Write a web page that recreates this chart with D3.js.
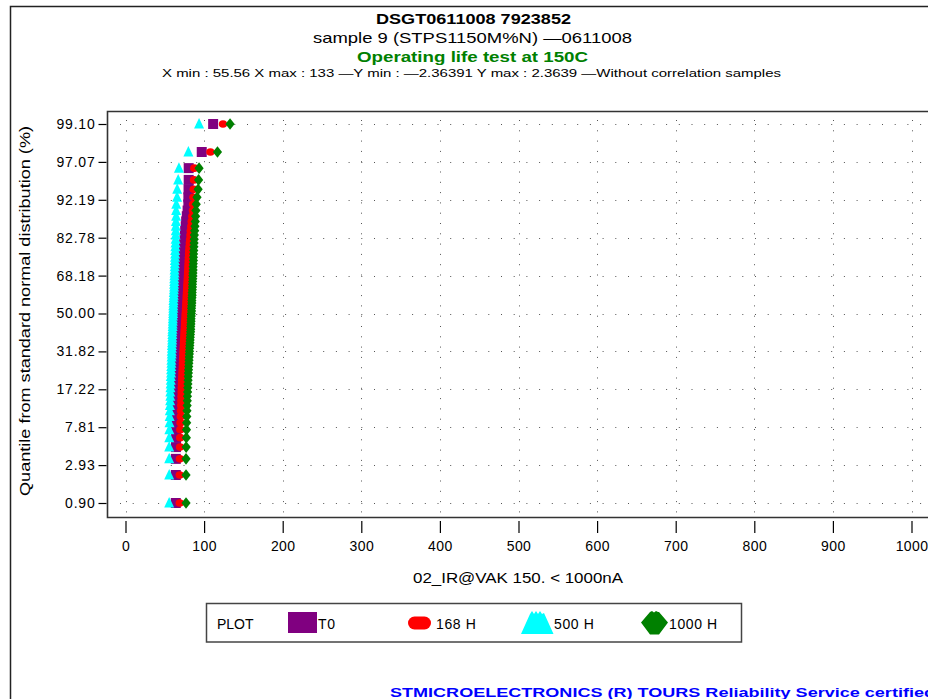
<!DOCTYPE html>
<html><head><meta charset="utf-8">
<script src="https://cdn.jsdelivr.net/npm/d3@7"></script>
<style>
body{margin:0;background:#fff;}
svg{display:block;font-family:"Liberation Sans",Arial,sans-serif;}
</style>
</head><body>
<svg id="c" width="928" height="699"></svg>
<script>
// ---------------- data ----------------
const seriesNames = ["T0", "168 H", "500 H", "1000 H"];
const seriesColors = ["#800080", "#ff0000", "#00ffff", "#008000"];

// sorted readings (nA), 77 parts per read-point
const t0 = [64.0,64.0,64.0,64.2,64.4,64.6,64.8,
  65.0,65.2,65.4,65.6,65.8,66.0,66.0,66.2,66.4,66.6,66.8,67.0,67.0,
  67.2,67.2,67.4,67.6,67.6,67.8,68.0,68.0,68.2,68.4,68.4,68.6,68.8,68.8,69.0,69.2,69.2,69.4,69.6,
  69.8,70.0,70.2,70.4,70.6,70.8,71.0,71.2,71.4,71.6,71.8,72.0,72.2,72.4,72.6,72.8,73.0,73.2,73.4,73.6,73.8,74.0,74.4,74.8,75.2,
  75.6,76.0,76.6,77.2,78.0,79.0,
  80.0,80.0,80.2,80.4,80.4,97.0,111.5];
const h168 = [69.0,69.0,69.2,69.4,69.6,69.8,70.0,
  70.4,70.6,70.8,71.0,71.2,71.4,71.6,71.8,72.0,72.2,72.4,72.6,72.8,
  73.0,73.2,73.4,73.6,73.8,74.0,74.2,74.4,74.6,74.8,75.0,75.2,75.4,75.6,75.8,76.0,76.2,76.4,76.6,
  76.8,77.0,77.2,77.4,77.6,77.8,78.0,78.2,78.4,78.6,78.8,79.0,79.2,79.4,79.6,79.8,80.0,80.2,80.4,80.6,80.8,81.0,81.4,81.8,82.2,
  82.6,83.0,83.6,84.2,85.0,85.8,
  86.0,86.4,86.8,87.2,87.6,108.0,124.0];
const h500 = [55.56,55.6,55.6,55.6,55.7,55.8,56.0,
  56.2,56.4,56.5,56.8,57.0,57.0,57.2,57.4,57.6,57.6,58.0,58.0,58.2,
  58.4,58.4,58.6,58.8,58.8,59.0,59.0,59.2,59.4,59.4,59.6,59.6,59.8,60.0,60.0,60.2,60.2,60.4,60.6,
  60.6,60.8,60.8,61.0,61.0,61.2,61.4,61.4,61.6,61.8,61.8,62.0,62.0,62.2,62.4,62.4,62.6,62.8,62.8,63.0,63.2,63.2,63.4,63.6,63.8,
  63.8,64.0,64.0,64.2,64.4,64.4,
  64.6,65.6,65.8,67.0,68.0,80.0,93.6];
const h1000 = [77.0,77.0,77.0,77.2,77.4,77.6,77.8,
  78.0,78.2,78.4,78.6,78.8,79.0,79.2,79.4,79.6,79.8,80.0,80.2,80.4,
  80.6,80.8,81.0,81.2,81.4,81.6,81.8,82.0,82.2,82.4,82.6,82.8,83.0,83.0,83.2,83.4,83.4,83.6,83.8,
  84.0,84.0,84.2,84.4,84.4,84.6,84.8,84.8,85.0,85.2,85.2,85.4,85.6,85.6,85.8,86.0,86.0,86.2,86.4,86.4,86.6,86.8,87.0,87.2,87.4,
  87.6,88.0,88.4,88.8,89.2,89.6,
  90.0,91.0,92.4,93.0,93.6,117.0,133.0];

const xTicks = [0,100,200,300,400,500,600,700,800,900,1000];
const yTickLabels = ["0.90","2.93","7.81","17.22","31.82","50.00","68.18","82.78","92.19","97.07","99.10"];
const zMax = 2.3639;

const titleLines = ["DSGT0611008 7923852", "sample 9 (STPS1150M%N) \u20140611008",
  "Operating life test at 150C",
  "X min : 55.56 X max : 133 \u2014Y min : \u20142.36391 Y max : 2.3639 \u2014Without correlation samples"];
const xLabel = "02_IR@VAK 150. <  1000nA";
const yLabel = "Quantile from standard normal distribution (%)";
const footer = "STMICROELECTRONICS (R) TOURS Reliability Service certified";

// ---------------- helpers ----------------
function qnorm(p){
  const a=[-3.969683028665376e+01,2.209460984245205e+02,-2.759285104469687e+02,1.383577518672690e+02,-3.066479806614716e+01,2.506628277459239e+00];
  const b=[-5.447609879822406e+01,1.615858368580409e+02,-1.556989798598866e+02,6.680131188771972e+01,-1.328068155288572e+01];
  const c=[-7.784894002430293e-03,-3.223964580411365e-01,-2.400758277161838e+00,-2.549732539343734e+00,4.374664141464968e+00,2.938163982698783e+00];
  const d=[7.784695709041462e-03,3.224671290700398e-01,2.445134137142996e+00,3.754408661907416e+00];
  const plow=0.02425, phigh=1-plow; let q,r;
  if(p<plow){q=Math.sqrt(-2*Math.log(p));return (((((c[0]*q+c[1])*q+c[2])*q+c[3])*q+c[4])*q+c[5])/((((d[0]*q+d[1])*q+d[2])*q+d[3])*q+1);}
  if(p<=phigh){q=p-0.5;r=q*q;return (((((a[0]*r+a[1])*r+a[2])*r+a[3])*r+a[4])*r+a[5])*q/(((((b[0]*r+b[1])*r+b[2])*r+b[3])*r+b[4])*r+1);}
  q=Math.sqrt(-2*Math.log(1-p));return -(((((c[0]*q+c[1])*q+c[2])*q+c[3])*q+c[4])*q+c[5])/((((d[0]*q+d[1])*q+d[2])*q+d[3])*q+1);
}
// normal probability plot positions (median ranks)
function toPoints(vals){
  const n = vals.length;
  return vals.map((v,i)=>({x:v, z:qnorm((i+1-0.3)/(n+0.4))}));
}

// ---------------- drawing ----------------
const svg = d3.select("#c");
const W = 928, H = 699;
const plot = {left:107, top:111, bottom:517};
const x = d3.scaleLinear().domain([0,1000]).range([125.5, 911.5]);
const y = d3.scaleLinear().domain([-zMax, zMax]).range([503, 124]);
const zTicks = d3.range(-5,6).map(k => k*zMax/5);

// outer frame
svg.append("path").attr("d", `M10.5,${H+2} V6.5 H${W+2}`).attr("fill","none").attr("stroke","#222").attr("stroke-width",1.5);

// titles
const tl = svg.append("g").attr("text-anchor","middle").attr("fill","#000");
tl.append("text").attr("x",473.5).attr("y",24).attr("font-size",15).attr("font-weight","bold")
  .attr("textLength",195).attr("lengthAdjust","spacingAndGlyphs").text(titleLines[0]);
tl.append("text").attr("x",472.5).attr("y",43).attr("font-size",15)
  .attr("textLength",319).attr("lengthAdjust","spacingAndGlyphs").text(titleLines[1]);
tl.append("text").attr("x",472.5).attr("y",62).attr("font-size",15).attr("font-weight","bold").attr("fill","#008000")
  .attr("textLength",231).attr("lengthAdjust","spacingAndGlyphs").text(titleLines[2]);
tl.append("text").attr("x",471.5).attr("y",77).attr("font-size",10.5)
  .attr("textLength",619).attr("lengthAdjust","spacingAndGlyphs").text(titleLines[3]);

// grid (dotted)
const grid = svg.append("g").attr("stroke","#555").attr("stroke-width",1);
grid.selectAll("line.h").data(zTicks).join("line")
  .attr("x1",120).attr("x2",W+5).attr("y1",d=>Math.round(y(d))+0.5).attr("y2",d=>Math.round(y(d))+0.5)
  .attr("stroke-dasharray","1 11.7");
grid.selectAll("line.v").data(xTicks).join("line")
  .attr("x1",d=>Math.round(x(d))+0.5).attr("x2",d=>Math.round(x(d))+0.5).attr("y1",plot.top+9).attr("y2",plot.bottom)
  .attr("stroke-dasharray","1 9.3");

// plot frame
svg.append("path").attr("d",`M${W+5},${plot.top+0.5} H${plot.left+0.5} V${plot.bottom+0.5} H${W+5}`)
  .attr("fill","none").attr("stroke","#333").attr("stroke-width",1.6);

// y axis
const yAxis = svg.append("g").attr("transform",`translate(${plot.left-0.5},0)`)
  .call(d3.axisLeft(y).tickValues(zTicks).tickFormat((d,i)=>yTickLabels[i]).tickSize(8).tickPadding(3));
yAxis.select(".domain").remove();
yAxis.selectAll(".tick line").attr("stroke","#000").attr("stroke-width",1.2);
yAxis.selectAll(".tick text").attr("font-size",14).attr("fill","#000").attr("font-family",'"Liberation Sans",Arial,sans-serif')
  .attr("letter-spacing",0.8);

// x axis
const xAxis = svg.append("g").attr("transform",`translate(0,521)`)
  .call(d3.axisBottom(x).tickValues(xTicks).tickFormat(d3.format("d")).tickSize(12).tickPadding(8));
xAxis.select(".domain").remove();
xAxis.selectAll(".tick line").attr("stroke","#000").attr("stroke-width",1.2);
xAxis.selectAll(".tick text").attr("font-size",14).attr("fill","#000").attr("font-family",'"Liberation Sans",Arial,sans-serif')
  .attr("letter-spacing",0.4);

// axis labels
svg.append("text").attr("x",518).attr("y",583).attr("text-anchor","middle").attr("font-size",14)
  .attr("textLength",210).attr("lengthAdjust","spacingAndGlyphs").text(xLabel);
svg.append("text").attr("transform","translate(30,311) rotate(-90)").attr("text-anchor","middle").attr("font-size",14)
  .attr("textLength",370).attr("lengthAdjust","spacingAndGlyphs").text(yLabel);

// markers
const shapes = [
  "M-5,-5H5V5H-5Z",                         // square
  "M-4.2,0A4.2,3.8 0 1,0 4.2,0A4.2,3.8 0 1,0 -4.2,0Z", // circle
  "M0,-6L5,4.5L-5,4.5Z",                     // triangle
  "M0,-5.8L4.6,0L0,5.8L-4.6,0Z"              // diamond
];
const series = [t0, h168, h500, h1000];
const marks = svg.append("g");
series.forEach((vals, si) => {
  marks.append("g").selectAll("path").data(toPoints(vals)).join("path")
    .attr("transform", d => `translate(${x(d.x)},${y(d.z)})`)
    .attr("d", shapes[si]).attr("fill", seriesColors[si]);
});

// legend
const lg = svg.append("g");
lg.append("rect").attr("x",206.5).attr("y",603.5).attr("width",535).attr("height",38.5)
  .attr("fill","#fff").attr("stroke","#444").attr("stroke-width",1.5);
lg.append("text").attr("x",217).attr("y",628.5).attr("font-size",14).text("PLOT");
const labX = [318, 436, 554, 669];
lg.append("rect").attr("x",288).attr("y",612).attr("width",29).attr("height",21).attr("fill",seriesColors[0]);
lg.append("rect").attr("x",408).attr("y",616.5).attr("width",23).attr("height",13).attr("rx",6.5).attr("fill",seriesColors[1]);
lg.append("path").attr("d","M521,634L530,614L532,611L534,614L536,611L538,614L540,611L542,614L544,613L553.5,634Z").attr("fill",seriesColors[2]);
lg.append("path").attr("d","M641,622.5L650,612L652,611L654,612.5L656,611L658,612L659,612L668,622.5L659,634.5L650,634.5Z").attr("fill",seriesColors[3]);
seriesNames.forEach((n,i)=>{
  lg.append("text").attr("x",labX[i]).attr("y",628.5).attr("font-size",14).attr("letter-spacing",0.6).text(n);
});

// footer
svg.append("text").attr("x",390).attr("y",697).attr("font-size",13).attr("font-weight","bold").attr("fill","#0000ff")
  .attr("textLength",545).attr("lengthAdjust","spacingAndGlyphs").text(footer);
</script>
</body></html>
